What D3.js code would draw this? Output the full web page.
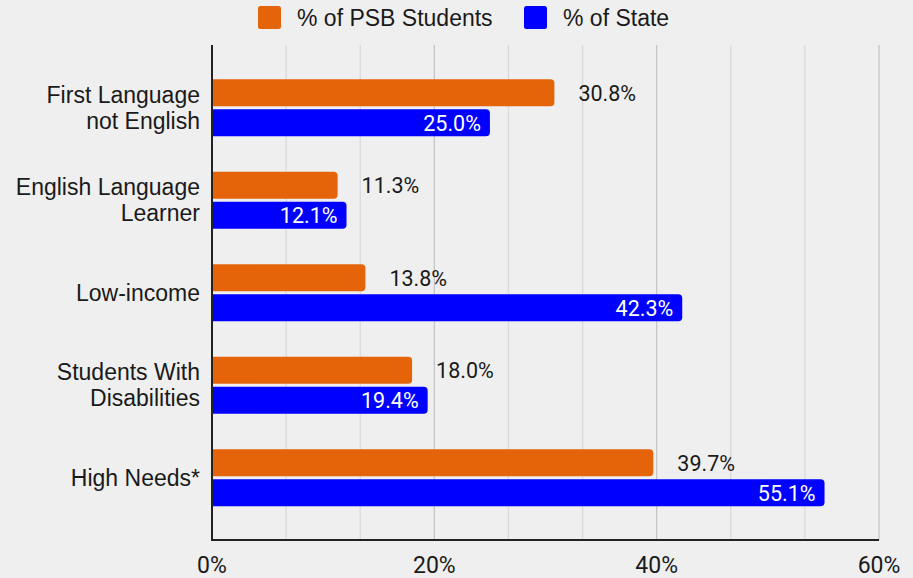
<!DOCTYPE html>
<html>
<head>
<meta charset="utf-8">
<script src="https://cdn.jsdelivr.net/npm/d3@7"></script>
<style>
  body { margin: 0; background: #efefef; }
  svg { display: block; }
</style>
</head>
<body>
<div id="chart"></div>
<script>
// data
var categories = [["First Language", "not English"], ["English Language", "Learner"], ["Low-income"], ["Students With", "Disabilities"], ["High Needs*"]];
var psbValues = [30.8, 11.3, 13.8, 18.0, 39.7];
var stateValues = [25.0, 12.1, 42.3, 19.4, 55.1];
var seriesNames = ["% of PSB Students", "% of State"];
var xTicks = [0, 20, 40, 60];

var wdim = 913, hdim = 578;
var colors = ["#e5640a", "#0000ff"];
var textCol = "#1a1a1a";

var svg = d3.select("#chart").append("svg")
  .attr("width", wdim)
  .attr("height", hdim);

svg.append("rect").attr("width", wdim).attr("height", hdim).attr("fill", "#efefef");

var x = d3.scaleLinear().domain([0, 60]).range([212, 879]);
var y = d3.scaleBand().domain(d3.range(categories.length)).range([61.5, 524]);
var barH = 27, gap = 3;

// gridlines every third of 20%
var grid = d3.range(0, 61, 20 / 3);
svg.append("g").selectAll("line").data(grid).enter().append("line")
  .attr("x1", d => x(d)).attr("x2", d => x(d))
  .attr("y1", 45).attr("y2", 540)
  .attr("stroke", d => Math.abs(d % 20) < 0.01 || Math.abs(d % 20 - 20) < 0.01 ? "#c6c6c6" : "#d9d9d9")
  .attr("stroke-width", 1.3);

// rounded right end bar
function barPath(x0, x1, y0, h, r) {
  r = Math.min(r, x1 - x0);
  return "M" + x0 + "," + y0 +
    "H" + (x1 - r) + "Q" + x1 + "," + y0 + " " + x1 + "," + (y0 + r) +
    "V" + (y0 + h - r) + "Q" + x1 + "," + (y0 + h) + " " + (x1 - r) + "," + (y0 + h) +
    "H" + x0 + "Z";
}

var groups = svg.append("g").selectAll("g").data(categories).enter().append("g");

groups.append("path")
  .attr("fill", colors[0])
  .attr("d", (d, i) => {
    var c = y(i) + y.bandwidth() / 2;
    return barPath(x(0), x(psbValues[i]), c - gap / 2 - barH, barH, 4);
  });

groups.append("path")
  .attr("fill", colors[1])
  .attr("d", (d, i) => {
    var c = y(i) + y.bandwidth() / 2;
    return barPath(x(0), x(stateValues[i]), c + gap / 2, barH, 4);
  });

// value labels
groups.append("text")
  .attr("x", (d, i) => x(psbValues[i]) + 24)
  .attr("y", (d, i) => y(i) + y.bandwidth() / 2 - gap / 2 - barH / 2 + 8)
  .attr("font-family", "Roboto")
  .attr("font-size", 21.5)
  .attr("fill", textCol)
  .text((d, i) => psbValues[i].toFixed(1) + "%");

groups.append("text")
  .attr("x", (d, i) => x(stateValues[i]) - 9)
  .attr("y", (d, i) => y(i) + y.bandwidth() / 2 + gap / 2 + barH / 2 + 8)
  .attr("text-anchor", "end")
  .attr("font-family", "Roboto")
  .attr("font-size", 21.5)
  .attr("fill", "#ffffff")
  .text((d, i) => stateValues[i].toFixed(1) + "%");

// category labels
groups.each(function (d, i) {
  var c = y(i) + y.bandwidth() / 2;
  var t = d3.select(this).append("text")
    .attr("text-anchor", "end")
    .attr("font-family", "'Liberation Sans', Arial, sans-serif")
    .attr("font-size", 23)
    .attr("fill", textCol);
  var start = d.length == 1 ? c + 8 : c - 5;
  d.forEach(function (line, k) {
    t.append("tspan").attr("x", 200).attr("y", start + k * 26).text(line);
  });
});

// axes lines
svg.append("line").attr("x1", 212).attr("x2", 212).attr("y1", 45).attr("y2", 541)
  .attr("stroke", "#222").attr("stroke-width", 2);
svg.append("line").attr("x1", 211).attr("x2", 879).attr("y1", 540).attr("y2", 540)
  .attr("stroke", "#222").attr("stroke-width", 2);

// x tick labels
svg.append("g").selectAll("text").data(xTicks).enter().append("text")
  .attr("x", d => x(d))
  .attr("y", 573)
  .attr("text-anchor", "middle")
  .attr("font-family", "Roboto")
  .attr("font-size", 23)
  .attr("fill", textCol)
  .text(d => d + "%");

// legend
var legendX = [258, 524];
var legend = svg.append("g").selectAll("g").data(seriesNames).enter().append("g");
legend.append("rect")
  .attr("x", (d, i) => legendX[i]).attr("y", 6)
  .attr("width", 23).attr("height", 23).attr("rx", 2.5)
  .attr("fill", (d, i) => colors[i]);
legend.append("text")
  .attr("x", (d, i) => legendX[i] + 39).attr("y", 25.5)
  .attr("font-family", "'Liberation Sans', Arial, sans-serif")
  .attr("font-size", 23)
  .attr("fill", textCol)
  .text(d => d);
</script>
</body>
</html>
